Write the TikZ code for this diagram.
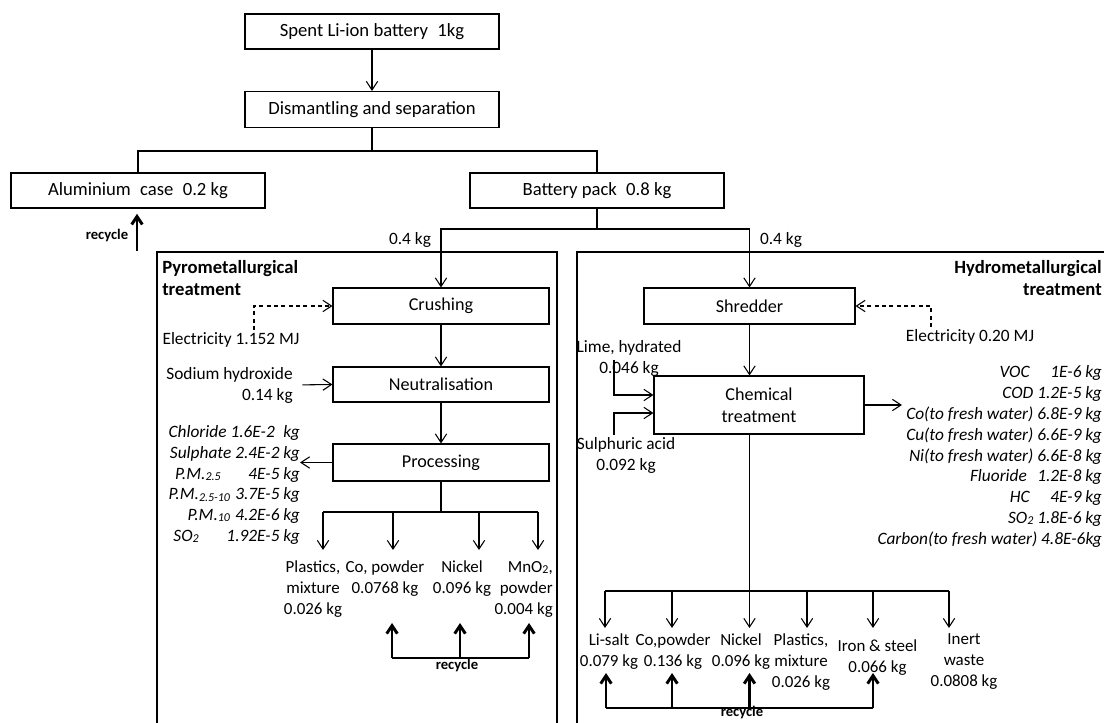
\documentclass[tikz,border=0pt]{standalone}
\usepackage{fontspec}
\setmainfont{Carlito}
\usetikzlibrary{arrows.meta,calc}
\newcommand\lowsub[1]{\raisebox{-0.15ex}{\fontsize{9pt}{10pt}\selectfont #1}}
\begin{document}
\begin{tikzpicture}[x=0.75pt,y=-0.75pt,
 every node/.style={font=\fontsize{13pt}{15.75pt}\selectfont, inner sep=0pt},
 box/.style={draw, line width=0.8pt, align=center, font=\fontsize{13.6pt}{16.5pt}\selectfont},
 topbox/.style={box, font=\fontsize{14pt}{16.5pt}\selectfont},
 sz/.style 2 args={minimum width=#1*0.75pt, minimum height=#2*0.75pt},
 lbl/.style={align=center},
 outl/.style={align=center, font=\fontsize{12.7pt}{15.75pt}\selectfont},
 ln/.style={line width=0.8pt},
 arr/.style={ln, -{Straight Barb[length=6.5pt,width=8.5pt]}},
 darr/.style={arr, dash pattern=on 3pt off 2.5pt},
 recline/.style={line width=2.2pt},
 recarr/.style={line width=2.2pt, -{Straight Barb[length=6pt,width=8pt]}},
 panel/.style={line width=1.5pt},
 rlbl/.style={font=\bfseries\fontsize{11pt}{12pt}\selectfont},
 ttl/.style={font=\bfseries\fontsize{14pt}{16.5pt}\selectfont},
 emis/.style={font=\itshape\fontsize{13pt}{15.6pt}\selectfont, align=right},
]
\path[use as bounding box] (0,0) rectangle (1104,723);
\clip (0,0) rectangle (1104,723);

% panels
\draw[panel] (157,252) rectangle (557,760);
\draw[panel] (577,252) rectangle (1130,760);

% top boxes
\node[topbox, sz={254}{35}] (spent) at (372,31.5) {Spent Li-ion battery\hspace{0.5em}1kg};
\node[topbox, sz={254}{36}] (dis) at (372,109.5) {Dismantling and separation};
\node[topbox, sz={254}{35}] (alu) at (138,190.5) {Aluminium\hspace{0.5em}case\hspace{0.5em}0.2 kg};
\node[topbox, sz={254}{35}] (pack) at (597,190.5) {Battery pack\hspace{0.5em}0.8 kg};

\draw[arr] (spent.south) -- (dis.north);
\coordinate (j1) at (372,151);
\draw[ln] (dis.south) -- (j1);
\draw[ln] (alu.north) |- (j1) -| (pack.north);

% recycle aluminium
\coordinate (r0) at (137,251);
\draw[recarr, shorten >=4pt] (r0) -- (r0 |- alu.south);
\node[rlbl] (rc0) at (107,236) {recycle};

% process boxes
\node[box, sz={216}{36}] (crush) at (441,306) {Crushing};
\node[box, sz={216}{35}] (neut) at (441,384.5) {Neutralisation};
\node[box, sz={216}{37}] (proc) at (441,462.5) {Processing};
\node[box, sz={211}{36}] (shred) at (749.5,306) {Shredder};
\node[box, sz={210}{58}] (chem) at (759,405) {Chemical\\treatment};

\coordinate (j2) at (597,229);
\draw[ln] (pack.south) -- (j2);
\draw[arr] (j2) -| (crush.north);
\draw[arr] (j2) -| (shred.north);
\node (kgl) at (410,240) {0.4 kg};
\node (kgr) at (781,240) {0.4 kg};

% titles
\node[ttl, align=left, anchor=west] (pyro) at (162,278) {Pyrometallurgical\\treatment};
\node[ttl, align=right, anchor=east] (hydro) at (1102,278) {Hydrometallurgical\\treatment};

% pyro chain
\draw[arr] (crush.south) -- (neut.north);
\draw[arr] (neut.south) -- (proc.north);

\node (elec1) at (231,340) {Electricity 1.152 MJ};
\coordinate (e1) at (254,330);
\draw[darr] (e1) |- (crush.west);

\node[align=right, anchor=east] (naoh) at (293,385) {Sodium hydroxide\\0.14 kg};
\draw[arr, shorten <=7pt] (naoh.east) -- (neut.west);

\node[emis, anchor=east] (em1) at (300,485) {Chloride 1.6E-2\hspace{0.5em}kg\\Sulphate 2.4E-2 kg\\P.M.\lowsub{2.5}\hspace{1.6em}4E-5 kg\\P.M.\lowsub{2.5-10}\hspace{0.3em}3.7E-5 kg\\P.M.\lowsub{10}\hspace{0.3em}4.2E-6 kg\\SO\lowsub{2}\hspace{1.6em}1.92E-5 kg};
\draw[arr] (proc.west) -- (proc.west -| em1.east);

% pyro outputs
\coordinate (j3) at (441,512);
\coordinate (pa) at (323,512);
\coordinate (pb) at (393,512);
\coordinate (pc) at (479,512);
\coordinate (pd) at (538,512);
\coordinate (pat) at (323,550);
\coordinate (pbt) at (393,550);
\coordinate (pct) at (479,550);
\coordinate (pdt) at (538,550);
\draw[ln] (proc.south) -- (j3);
\draw[ln] (pa) -- (pd);
\draw[arr] (pa) -- (pat);
\draw[arr] (pb) -- (pbt);
\draw[arr] (pc) -- (pct);
\draw[arr] (pd) -- (pdt);

\node[outl] (pl1) at (313,589) {Plastics,\\mixture\\0.026 kg};
\node[outl] (co1) at (385,578.5) {Co, powder\\0.0768 kg};
\node[outl] (ni1) at (462,578.5) {Nickel\\0.096 kg};
\node[outl, align=right, anchor=east] (mn1) at (553,589) {MnO\lowsub{2},\\powder\\0.004 kg};

% pyro recycle
\coordinate (ra) at (392,658);
\coordinate (rb) at (460,658);
\coordinate (rcc) at (529,658);
\coordinate (rat) at (392,623);
\coordinate (rbt) at (460,623);
\coordinate (rct) at (529,623);
\draw[recline] (ra) -- (rcc);
\draw[recarr] (ra) -- (rat);
\draw[recarr] (rb) -- (rbt);
\draw[recarr] (rcc) -- (rct);
\node[rlbl] (rc1) at (457,666) {recycle};

% hydro chain
\node (elec2) at (970,337) {Electricity 0.20 MJ};
\coordinate (e2) at (931,327);
\draw[darr] (e2) |- (shred.east);
\draw[arr] (shred.south) -- (shred.south |- chem.north);

\node[lbl] (lime) at (629,358.5) {Lime, hydrated\\0.046 kg};
\coordinate (l1) at (614,360);
\draw[arr] (l1) |- ([yshift=7.5pt]chem.west);
\node[lbl] (sulf) at (626,455.5) {Sulphuric acid\\0.092 kg};
\coordinate (s1) at (614,435);
\draw[arr] (s1) |- ([yshift=-6pt]chem.west);

\coordinate (ce) at (902,405);
\draw[arr] (chem.east) -- (ce);
\node[emis, anchor=east] (em2) at (1102,456.5) {VOC\hspace{1.2em}1E-6 kg\\COD 1.2E-5 kg\\Co(to fresh water) 6.8E-9 kg\\Cu(to fresh water) 6.6E-9 kg\\Ni(to fresh water) 6.6E-8 kg\\Fluoride\hspace{0.6em}1.2E-8 kg\\HC\hspace{1.2em}4E-9 kg\\SO\lowsub{2} 1.8E-6 kg\\Carbon(to fresh water) 4.8E-6kg};

% hydro outputs
\coordinate (cb) at (749.5,434);
\coordinate (ha) at (605,591);
\coordinate (hb) at (672,591);
\coordinate (hd) at (807,591);
\coordinate (he) at (873,591);
\coordinate (hf) at (949,591);
\coordinate (hat) at (605,628);
\coordinate (hbt) at (672,628);
\coordinate (hct) at (749.5,628);
\coordinate (hdt) at (807,628);
\coordinate (het) at (873,628);
\coordinate (hft) at (949,628);
\draw[arr] (cb) -- (hct);
\draw[ln] (ha) -- (hf);
\draw[arr] (ha) -- (hat);
\draw[arr] (hb) -- (hbt);
\draw[arr] (hd) -- (hdt);
\draw[arr] (he) -- (het);
\draw[arr] (hf) -- (hft);

\node[outl] (li) at (609,651.5) {Li-salt\\0.079 kg};
\node[outl] (cop) at (673,651.5) {Co,powder\\0.136 kg};
\node[outl] (nik) at (741,651.5) {Nickel\\0.096 kg};
\node[outl] (pl2) at (801,662) {Plastics,\\mixture\\0.026 kg};
\node[outl] (fe) at (877.5,657.5) {Iron \& steel\\0.066 kg};
\node[outl] (inert) at (964,662) {Inert\\waste\\0.0808 kg};

% hydro recycle
\coordinate (qa) at (606,708);
\coordinate (qb) at (672,708);
\coordinate (qc) at (749.5,708);
\coordinate (qd) at (873,708);
\coordinate (qat) at (606,673);
\coordinate (qbt) at (672,673);
\coordinate (qct) at (749.5,673);
\coordinate (qdt) at (873,673);
\draw[recline] (qa) -- (qd);
\draw[recarr] (qa) -- (qat);
\draw[recarr] (qb) -- (qbt);
\draw[recarr] (qc) -- (qct);
\draw[recarr] (qd) -- (qdt);
\node[rlbl] (rc2) at (742,713) {recycle};
\end{tikzpicture}
\end{document}
